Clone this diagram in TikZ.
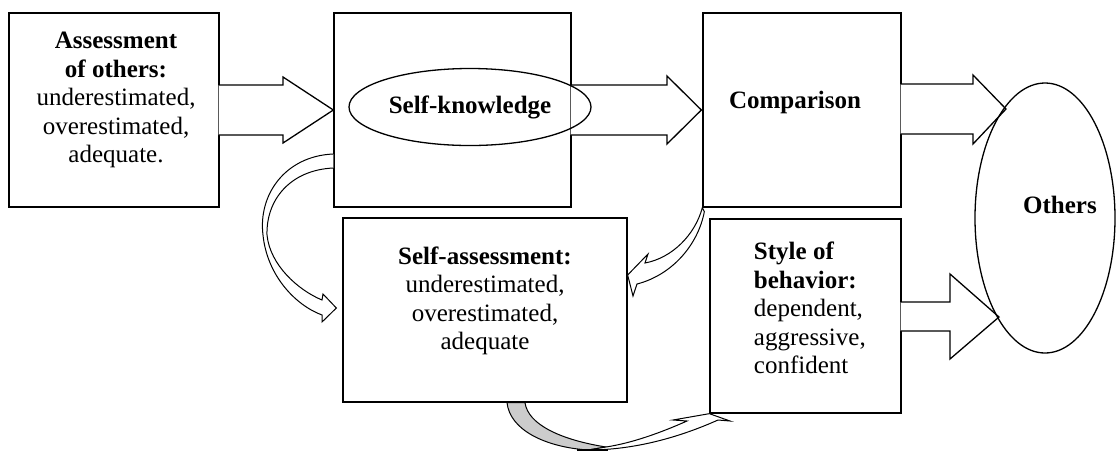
\documentclass[tikz,border=0pt]{standalone}
\usepackage{fontspec}
\setmainfont{Liberation Serif}
\usetikzlibrary{shapes.geometric,calc}

\begin{document}
\begin{tikzpicture}[x=1pt, y=-1pt, line width=1.3pt,
  box/.style={draw, rectangle, inner sep=0pt, minimum height=194pt},
  oval/.style={draw, ellipse, inner sep=0pt},
  txt/.style={align=center, font=\fontsize{25}{28.5}\selectfont},
  blockarrow/.style={draw, fill=white, line join=miter},
  bendarrow/.style={draw, fill=white, line join=miter, line width=1pt}]
\useasboundingbox (0,0) rectangle (1117,451);
% boxes
\node[box, minimum width=210pt] (assess) at (114,110) {};
\node[box, minimum width=237pt] (selfknow) at (452.5,110) {};
\node[box, minimum width=198pt] (compare) at (802,110) {};
\node[box, minimum width=284pt, minimum height=184pt] (selfassess) at (485,310) {};
\node[box, minimum width=191pt] (behave) at (805.5,316) {};
% texts
\node[txt] (assesstxt) at (116,100) {\textbf{Assessment}\\ \textbf{of others:}\\ underestimated,\\ overestimated,\\ adequate.};
\node[txt] (comparetxt) at (795,102) {\textbf{Comparison}};
\node[txt] (selfassesstxt) at (485,301) {\textbf{Self-assessment:}\\ underestimated,\\ overestimated,\\ adequate};
\node[txt, align=left, anchor=west] (behavetxt) at (750,308) {\textbf{Style of}\\ \textbf{behavior:}\\ dependent,\\ aggressive,\\ confident};
% block arrows
\draw[blockarrow] ([xshift=-1pt,yshift=25pt]assess.east) -- (283,85) -- (283,77) -- (selfknow.west)
  -- (283,143) -- (283,135) -- ([xshift=-1pt,yshift=-25pt]assess.east);
\draw[blockarrow] ([xshift=-1pt,yshift=25pt]selfknow.east) -- (667,85) -- (667,76) -- ([xshift=-1pt]compare.west)
  -- (667,144) -- (667,135) -- ([xshift=-1pt,yshift=-25pt]selfknow.east);
\draw[blockarrow] ([xshift=-1pt,yshift=26pt]compare.east) -- (973,84) -- (973,75) -- (1006,109)
  -- (973,144) -- (973,134) -- ([xshift=-1pt,yshift=-24pt]compare.east);
\draw[blockarrow] ([xshift=-1pt,yshift=14pt]behave.east) -- (950,302) -- (950,274) -- (999,317)
  -- (950,359) -- (950,331) -- ([xshift=-1pt,yshift=-15pt]behave.east);
% ovals
\node[oval, txt, minimum width=242pt, minimum height=77pt] (selfknowoval) at (470,107) {\textbf{Self-knowledge}};
\node[oval, minimum width=140pt, minimum height=270pt] (others) at (1045,218) {};
\node[txt] (otherstxt) at (1060,205) {\textbf{Others}};
% curved arrows
\draw[bendarrow] ([yshift=-44pt]selfknow.west) .. controls (285,156) and (258,195) .. (263,235)
  .. controls (267,275) and (295,305) .. (322,315) -- (322,322) -- ([xshift=-6pt,yshift=2pt]selfassess.west)
  -- (323,294) -- (322,300) .. controls (298,290) and (270,265) .. (267,235)
  .. controls (266,200) and (290,170) .. ([yshift=-58pt]selfknow.west);
\draw[bendarrow] (compare.south west) .. controls (695,235) and (672,258) .. (645,263) -- (648,254)
  -- ([yshift=35pt]selfassess.east) -- (633,296) -- (637,284)
  .. controls (672,275) and (698,245) .. ([xshift=2pt,yshift=-4pt]compare.south west) -- cycle;
\draw[bendarrow, fill=gray!40] ([xshift=22pt]selfassess.south) .. controls (510,430) and (545,447) .. (588,450)
  -- (606,447) .. controls (562,440) and (528,425) .. ([xshift=40pt]selfassess.south) -- cycle;
\draw[bendarrow] (588,450) .. controls (635,450) and (680,437) .. (718,420) -- (730,421) -- (behave.south west)
  -- (673,420) -- (687,421) .. controls (660,433) and (632,443) .. (606,447) -- cycle;
\draw[line width=2.5pt] (577,450) -- (608,450);
\end{tikzpicture}
\end{document}
